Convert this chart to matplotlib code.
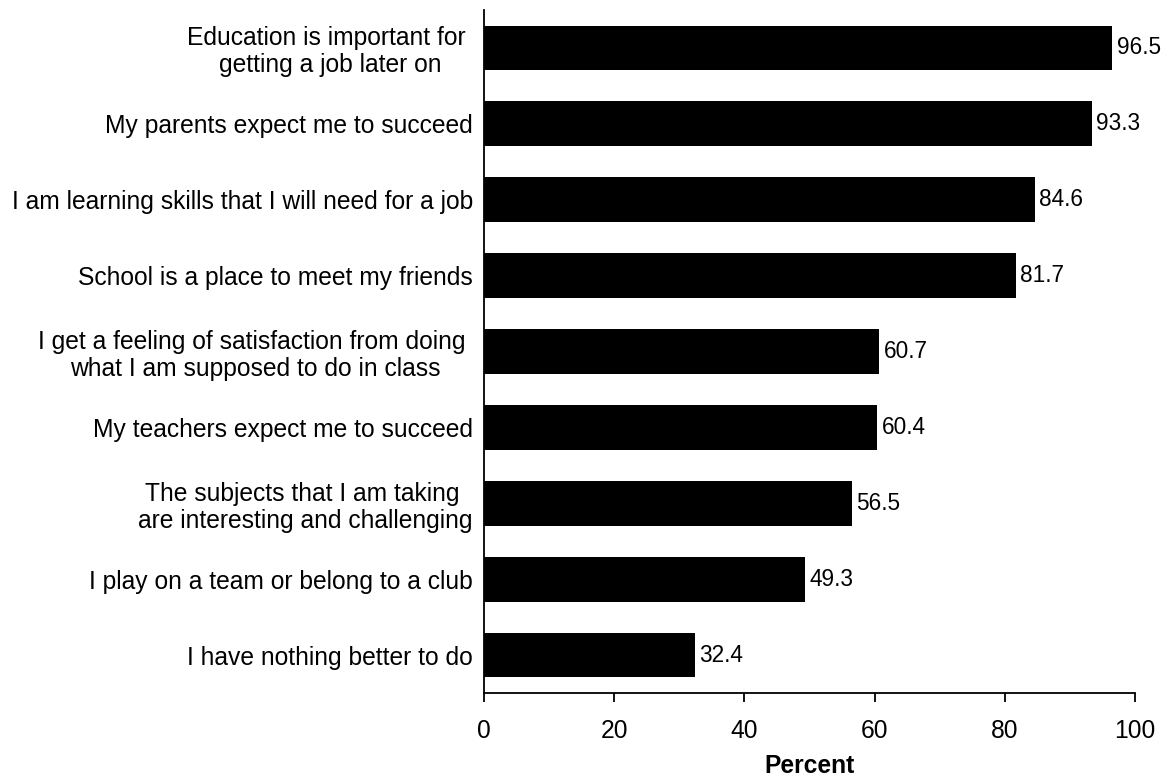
import numpy as np
import matplotlib.pyplot as plt

plt.rcParams['font.family'] = ['Liberation Sans', 'DejaVu Sans']

reasons = [
    "Education is important for \ngetting a job later on",
    "My parents expect me to succeed",
    "I am learning skills that I will need for a job",
    "School is a place to meet my friends",
    "I get a feeling of satisfaction from doing \nwhat I am supposed to do in class",
    "My teachers expect me to succeed",
    "The subjects that I am taking \nare interesting and challenging",
    "I play on a team or belong to a club",
    "I have nothing better to do",
]
percent = [96.5, 93.3, 84.6, 81.7, 60.7, 60.4, 56.5, 49.3, 32.4]

fig = plt.figure(figsize=(11.67, 7.79), dpi=100)
ax = fig.add_axes([0.4147, 0.1104, 0.558, 0.8768])

y = np.arange(len(reasons))[::-1]
bars = ax.barh(y, percent, height=0.59, color='black')

for b, v in zip(bars, percent):
    ax.annotate(f'{v:.1f}', (b.get_width(), b.get_y() + b.get_height() / 2),
                xytext=(3, 0), textcoords='offset points',
                ha='left', va='center', fontsize=16.3)

ax.set_yticks(y)
ax.set_yticklabels(reasons, fontsize=17.7, linespacing=1.15)
for t in ax.get_yticklabels():
    t.set_multialignment('center')
ax.tick_params(axis='y', length=0, pad=8)
ax.tick_params(axis='x', direction='out', length=6.5, width=1.3, labelsize=17.7, pad=12)

ax.set_xlim(0, 100)
ax.set_xticks(range(0, 101, 20))
ax.set_ylim(-0.5, 8.5)
ax.set_xlabel('Percent', fontsize=17.7, fontweight='bold', labelpad=8)

for s in ['top', 'right']:
    ax.spines[s].set_visible(False)
for s in ['left', 'bottom']:
    ax.spines[s].set_linewidth(1.3)

fig.savefig('out.png', dpi=100)
